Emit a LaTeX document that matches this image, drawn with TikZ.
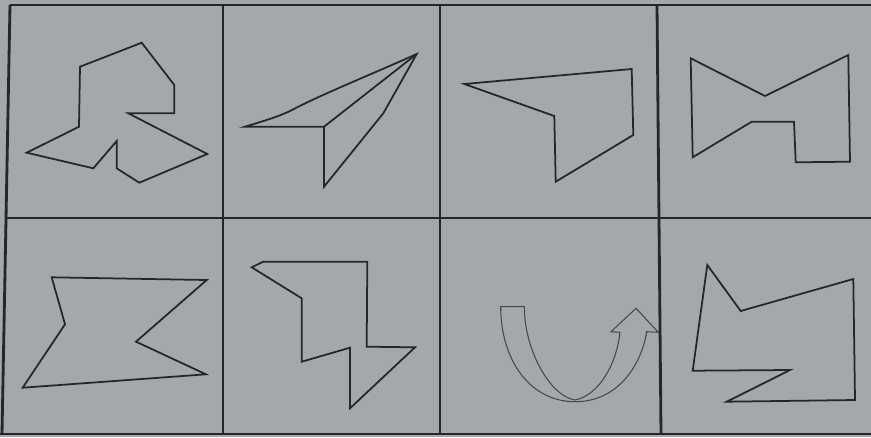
\documentclass[tikz,border=0pt]{standalone}
\definecolor{paper}{RGB}{164,168,173}
\definecolor{ink}{RGB}{36,38,42}
\tikzset{
  gridline/.style={draw=ink, line width=2.4pt},
  figline/.style={draw=ink, line width=1.5pt, line join=miter},
  thinfig/.style={draw=ink!85, line width=0.9pt, line join=miter}
}
\begin{document}
\begin{tikzpicture}[x=0.03cm,y=-0.03cm]
\useasboundingbox (0,0) rectangle (871,437);
\fill[paper] (0,0) rectangle (871,437);
% grid
\coordinate (tl) at (10,5);
\coordinate (tr) at (871,5);
\coordinate (ml) at (6,218);
\coordinate (mr) at (871,218);
\coordinate (bl) at (0,434);
\coordinate (br) at (871,434);
\coordinate (bll) at (2,434);
\coordinate (v1t) at (223,5);
\coordinate (v1b) at (223,434);
\coordinate (v2t) at (440,5);
\coordinate (v2b) at (440,434);
\coordinate (v3t) at (657,5);
\coordinate (v3b) at (661,434);
\draw[gridline] (tl) -- (tr);
\draw[gridline] (ml) -- (mr);
\draw[gridline] (bl) -- (br);
\draw[gridline] (tl) -- (bll);
\draw[gridline] (v1t) -- (v1b);
\draw[gridline] (v2t) -- (v2b);
\draw[gridline] (v3t) -- (v3b);
% cell 1
\draw[figline] (141.7,42.7) -- (174.3,85) -- (174.3,113.3) -- (128.3,113.3) -- (207.3,154) -- (139.3,182.7) -- (116.7,168.3) -- (116.7,141) -- (93.3,168.3) -- (26.7,152.7) -- (79,126.7) -- (80,66.7) -- cycle;
% cell 2
\draw[figline] (416.7,54) .. controls (370,75) and (320,95) .. (290,111) .. controls (275,118) and (260,122) .. (245,126.7) -- (324,126.7) -- (324,186.7) -- (383.3,113.3) -- cycle;
\draw[figline] (324,126.7) -- (416.7,54);
% cell 3
\draw[figline] (464.3,84) -- (631.7,69) -- (633.3,135) -- (555.7,181.7) -- (554.3,116) -- cycle;
% cell 4
\draw[figline] (690.7,58.3) -- (765,96) -- (848.3,55) -- (850,161.7) -- (795.7,162.3) -- (794,121.7) -- (751.7,121.7) -- (692.7,157.3) -- cycle;
% cell 5
\draw[figline] (51.7,277.3) -- (206.7,280) -- (136,341.7) -- (206,374.3) -- (22.7,387.7) -- (65,324.3) -- cycle;
% cell 6
\draw[figline] (251.7,267.3) -- (263.3,261.7) -- (367.3,261.7) -- (366.7,346.7) -- (415,347.3) -- (350,408.3) -- (350,347.7) -- (301.7,361.7) -- (301.7,298.3) -- cycle;
% cell 7: curved arrow
\draw[thinfig] (620,332.3) -- (611,331.7) -- (636,308.3) -- (658.3,332.3) -- (646.7,331.7)
  .. controls (642,362) and (620,401.7) .. (575,401.7)
  .. controls (530,401.7) and (500.7,360) .. (500.7,306.7)
  -- (524.3,306.7)
  .. controls (524.3,350) and (550,396) .. (575,400)
  .. controls (600,395) and (617,362) .. (620,332.3);
% cell 8
\draw[figline] (707.3,265) -- (740.7,311) -- (853.3,279) -- (855,400) -- (726.7,401.7) -- (790,370) -- (692.7,370.7) -- cycle;
\end{tikzpicture}
\end{document}
